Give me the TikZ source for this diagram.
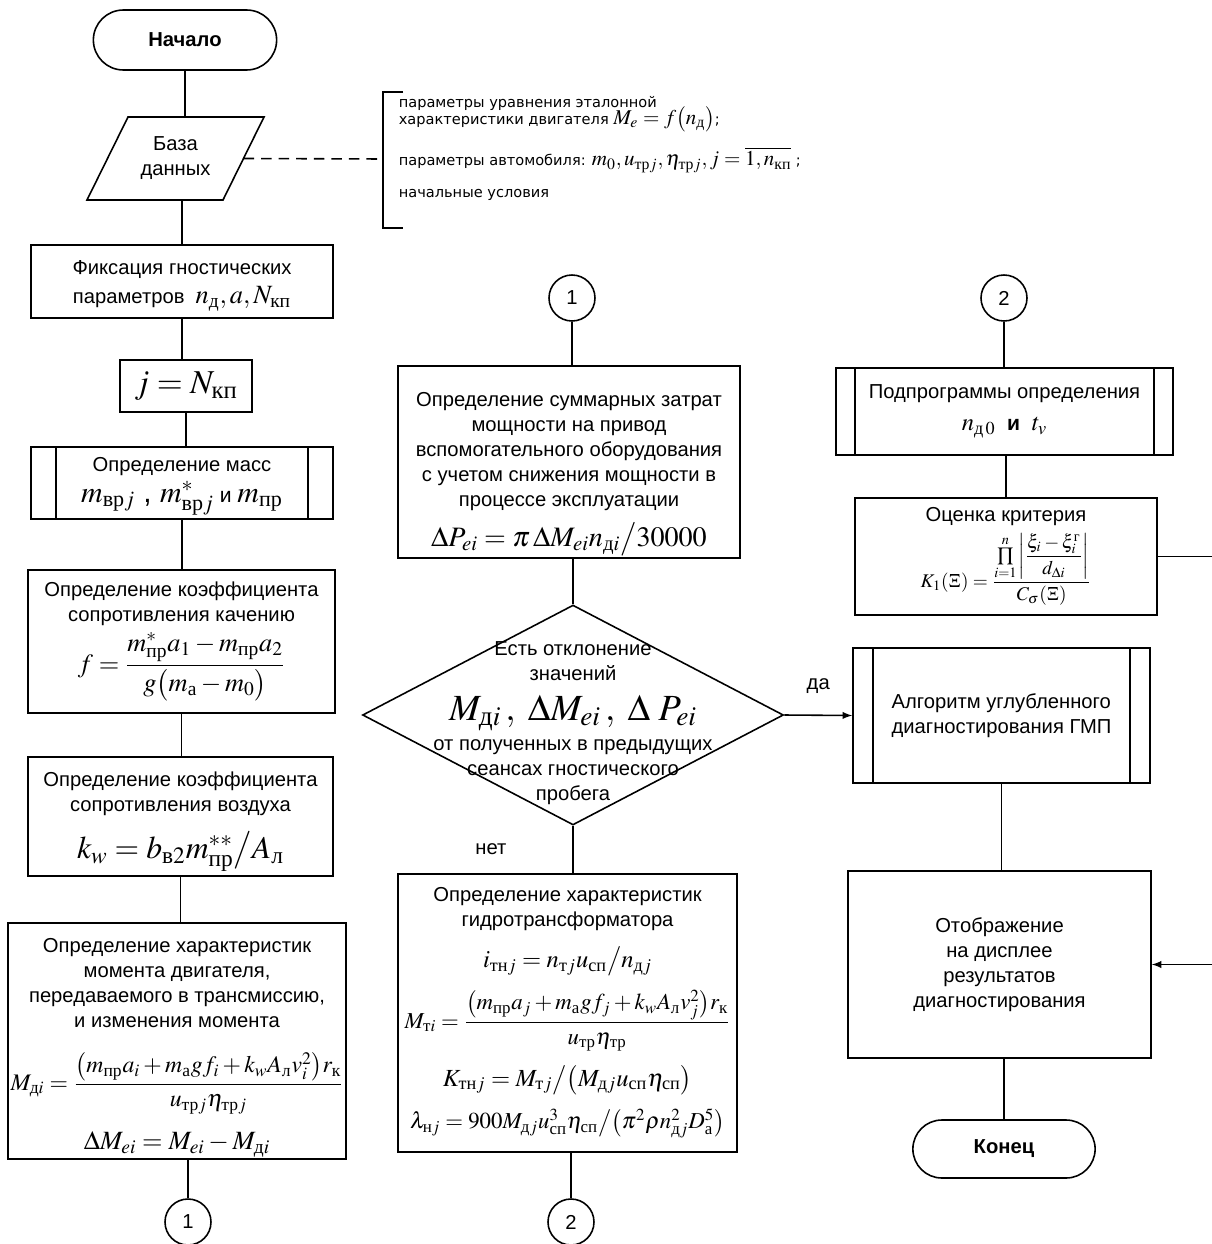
\documentclass[tikz,border=0pt]{standalone}
\usepackage{amsmath}
\usepackage{mathptmx}
\usepackage[no-math]{fontspec}
\setmainfont{Liberation Sans}
\newfontfamily\cyrserif{Liberation Serif}
\newfontfamily\notefont{DejaVu Sans}
\usetikzlibrary{arrows,shapes.geometric,shapes.misc}

\newcommand\cy[1]{\text{\cyrserif\upshape #1}}
\newcommand\fsz[1]{\fontsize{#1}{#1}\selectfont}

\tikzset{
  box/.style={draw, line width=0.9pt, align=center, inner sep=1pt,
    font=\fontsize{11.5}{14.2}\selectfont},
  subproc/.style={box, path picture={
    \draw[line width=0.9pt]
      ([xshift=#1]path picture bounding box.north west) -- ([xshift=#1]path picture bounding box.south west)
      ([xshift=-#1]path picture bounding box.north east) -- ([xshift=-#1]path picture bounding box.south east);}},
  subproc/.default=0.4cm,
  term/.style={draw, line width=0.9pt, rounded rectangle, font=\fontsize{11.5}{14}\selectfont\bfseries},
  conn/.style={draw, line width=0.9pt, circle, minimum size=0.92cm, inner sep=0pt,
    font=\fontsize{11.5}{14}\selectfont},
  note/.style={anchor=west, align=left, inner sep=0pt, font=\notefont\fontsize{8.3}{9}\selectfont}
}

\begin{document}
\begin{tikzpicture}[x=0.02cm, y=-0.02cm, line width=0.9pt]
\path[use as bounding box, fill=white] (0,0) rectangle (1211,1244);

% left column
\node[term, minimum width=3.9cm, minimum height=1.2cm] (start) at (185,40) {Начало};
% data base (parallelogram)
\node[align=center, inner sep=0pt, font=\fontsize{11.5}{14.2}\selectfont] (db) at (175.5,158.5) {База\\данных};
\draw (128,117) coordinate (dbtl) -- (264,117) -- (223,200) -- (87,200) coordinate (dbbl) -- cycle;
\coordinate (dbeast) at (243.5,158.5);
\node[box, minimum width=6.04cm, minimum height=1.46cm] (fix) at (182,281.5)
  {\rule{0pt}{13pt}Фиксация гностических\\[2pt]параметров \ {\fsz{15}$n_{\cy{д}}, a, N_{\cy{кп}}$}};
\node[box, minimum width=2.64cm, minimum height=1.04cm] (jbox) at (186,386)
  {\fsz{19}$j = N_{\cy{кп}}$};
\node[subproc=0.5cm, minimum width=6.04cm, minimum height=1.44cm] (mass) at (182,483)
  {\rule{0pt}{12pt}Определение масс\\[2pt]{\fsz{17}$m_{\cy{вр}j}$ , $m^{*}_{\cy{вр}j}$\text{\fsz{12} и }$m_{\cy{пр}}$}};
\node[box, minimum width=6.14cm, minimum height=2.86cm] (roll) at (181.5,641.5)
  {Определение коэффициента\\сопротивления качению\\[3pt]
   {\fsz{15}$f = \dfrac{m^{*}_{\cy{пр}}a_1 - m_{\cy{пр}}a_2}{g\bigl(m_{\cy{а}} - m_0\bigr)}$}};
\node[box, minimum width=6.1cm, minimum height=2.38cm] (air) at (180.5,816.5)
  {\rule{0pt}{14pt}Определение коэффициента\\сопротивления воздуха\\[8pt]
   {\fsz{18}$k_w = b_{\cy{в}2}m^{**}_{\cy{пр}}\big/A_{\cy{л}}$}};
\node[box, minimum width=6.76cm, minimum height=4.64cm] (mom) at (177,1041)
  {\rule{0pt}{16pt}Определение характеристик\\момента двигателя,\\передаваемого в трансмиссию,\\и изменения момента\\[13pt]
   {\fsz{13.5}$M_{\cy{д}i} = \dfrac{\bigl(m_{\cy{пр}}a_i + m_{\cy{а}}gf_i + k_wA_{\cy{л}}v_i^2\bigr)r_{\cy{к}}}{u_{\cy{тр}j}\eta_{\cy{тр}j}}$}\\[9pt]
   {\fsz{15}$\Delta M_{ei} = M_{ei} - M_{\cy{д}i}$}};
\node[conn] (c1a) at (188,1222) {1};

% annotation
\draw (403,92) -- (383,92) -- (383,228) -- (403,228);
\coordinate (brk) at (383,159);
\draw[dash pattern=on 6pt off 4pt] (dbeast) -- (brk);
\node[note] (note1) at (398,114) {параметры уравнения эталонной\\[-3pt]
  характеристики двигателя {\fsz{12}$M_e = f\bigl(n_{\cy{д}}\bigr)$};};
\node[note] (note2) at (398,160) {параметры автомобиля: {\fsz{12}$m_0, u_{\cy{тр}j}, \eta_{\cy{тр}j}, j = \overline{1,n_{\cy{кп}}}$} ;};
\node[note] (note3) at (398,195) {начальные условия};

% middle column
\node[conn] (c1b) at (572,298) {1};
\node[box, minimum width=6.84cm, minimum height=3.76cm] (power) at (569,462)
  {\rule{0pt}{22pt}Определение суммарных затрат\\мощности на привод\\вспомогательного оборудования\\с учетом снижения мощности в\\процессе эксплуатации\\[6pt]
   {\fsz{16}$\Delta P_{ei} = \pi\,\Delta M_{ei}n_{\cy{д}i}\big/30000$}};
\node[draw, diamond, minimum width=8.42cm, minimum height=4.4cm, inner sep=0pt] (dec) at (573,715) {};
\node[align=center, inner sep=0pt, font=\fontsize{11.5}{14.2}\selectfont] (dectxt) at (573,723)
  {Есть отклонение\\значений\\[7pt]{\fsz{21}$M_{\cy{д}i}\,,\;\Delta M_{ei}\,,\;\Delta\;P_{ei}$}\\[3pt]от полученных в предыдущих\\сеансах гностического\\пробега};
\node[box, minimum width=6.78cm, minimum height=5.56cm] (gt) at (567.5,1013)
  {Определение характеристик\\гидротрансформатора\\[8pt]
   {\fsz{14}$i_{\cy{тн}j} = n_{\cy{т}j}u_{\cy{сп}}\big/n_{\cy{д}j}$}\\[7pt]
   {\fsz{13}$M_{\cy{т}i} = \dfrac{\bigl(m_{\cy{пр}}a_j + m_{\cy{а}}gf_j + k_wA_{\cy{л}}v_j^2\bigr)r_{\cy{к}}}{u_{\cy{тр}}\eta_{\cy{тр}}}$}\\[7pt]
   {\fsz{14}$K_{\cy{тн}j} = M_{\cy{т}j}\big/\bigl(M_{\cy{д}j}u_{\cy{сп}}\eta_{\cy{сп}}\bigr)$}\\[7pt]
   {\fsz{13}$\lambda_{\cy{н}j} = 900M_{\cy{д}j}u_{\cy{сп}}^3\eta_{\cy{сп}}\big/\bigl(\pi^2\rho n_{\cy{д}j}^2D_{\cy{а}}^5\bigr)$}};
\node[conn] (c2a) at (571,1222) {2};

% right column
\node[conn] (c2b) at (1004,298) {2};
\node[subproc=0.38cm, minimum width=6.74cm, minimum height=1.74cm] (sub) at (1004.5,411.5)
  {Подпрограммы определения\\[4pt]{\fsz{14}$n_{\cy{д}\,0}$\text{\fsz{12}\bfseries\ \ и\ \ }$t_v$}};
\node[box, minimum width=6.04cm, minimum height=2.34cm] (est) at (1006,556.5)
  {Оценка критерия\\[3pt]
   {\fsz{11}$K_1(\Xi) = \dfrac{\prod\limits_{i=1}^{n}\left|\dfrac{\xi_i - \xi_i^{\cy{г}}}{d_{\Delta i}}\right|}{C_\sigma(\Xi)}$}};
\node[subproc, minimum width=5.94cm, minimum height=2.7cm, align=left] (alg) at (1001.5,715.5)
  {Алгоритм углубленного\\диагностирования ГМП};
\node[box, minimum width=6.06cm, minimum height=3.74cm] (disp) at (999.5,964.5)
  {Отображение\\на дисплее\\результатов\\диагностирования};
\node[term, minimum width=3.88cm, minimum height=1.16cm] (fin) at (1004,1149) {Конец};

% connectors
\draw (start.south) -- (start.south |- dbtl);
\draw (dbbl -| fix.north) -- (fix.north);
\foreach \a/\b in {fix/jbox, jbox/mass, mass/roll, roll/air, air/mom}
  \draw (\a.south) -- (\a.south |- \b.north);
\draw (c1a.north) -- (c1a.north |- mom.south);
\draw (c1b.south) -- (c1b.south |- power.north);
\draw (dec.north) -- (dec.north |- power.south);
\draw (dec.south) -- node[left=1.2cm, font=\fontsize{11.5}{14}\selectfont] {нет} (dec.south |- gt.north);
\draw (c2a.north) -- (c2a.north |- gt.south);
\draw[-latex] (dec.east) -- node[above=0.3cm, font=\fontsize{11.5}{14}\selectfont] {да} (alg.west);
\draw (c2b.south) -- (c2b.south |- sub.north);
\draw (est.north) -- (est.north |- sub.south);
\draw (alg.south) -- (alg.south |- disp.north);
\draw (fin.north) -- (fin.north |- disp.south);
\coordinate (rim) at (1216,0);
\draw[-latex] (est.east) -- (est.east -| rim) |- (disp.east);
\end{tikzpicture}
\end{document}
